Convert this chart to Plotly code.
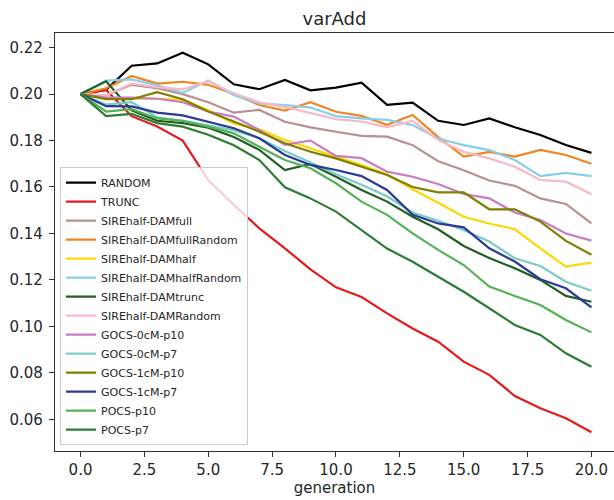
import plotly.graph_objects as go

generation = list(range(21))

RANDOM = [0.2, 0.2018, 0.2122, 0.2132, 0.2178, 0.2128, 0.2042, 0.2021, 0.2061, 0.2016, 0.2028,
          0.2049, 0.1954, 0.1963, 0.1885, 0.1867, 0.1895, 0.1857, 0.1824, 0.1781, 0.1747]
TRUNC = [0.2, 0.2018, 0.1905, 0.186, 0.1800, 0.163, 0.1523, 0.1422, 0.1336, 0.1245, 0.1168,
         0.1126, 0.1056, 0.0991, 0.0934, 0.0848, 0.0791, 0.0700, 0.0647, 0.0604, 0.0544]
DAMfull = [0.2, 0.1995, 0.204, 0.2025, 0.2, 0.1965, 0.192, 0.1932, 0.1881, 0.1857, 0.1838,
           0.182, 0.1817, 0.178, 0.1711, 0.1672, 0.1628, 0.1605, 0.1551, 0.1527, 0.1443]
DAMfullRandom = [0.2, 0.2025, 0.2078, 0.2045, 0.2053, 0.204, 0.2, 0.1953, 0.1929, 0.1965, 0.1924,
                 0.1906, 0.1868, 0.191, 0.1815, 0.1731, 0.1751, 0.1731, 0.176, 0.1738, 0.17]
DAMhalf = [0.2, 0.1985, 0.198, 0.198, 0.1975, 0.193, 0.1874, 0.1848, 0.1802, 0.1766, 0.173,
           0.1695, 0.1655, 0.159, 0.1532, 0.1472, 0.1443, 0.1418, 0.1336, 0.1257, 0.1274]
DAMhalfRandom = [0.2, 0.2058, 0.2063, 0.2038, 0.2005, 0.2058, 0.1995, 0.196, 0.1953, 0.1942, 0.1905,
                 0.1895, 0.1889, 0.1867, 0.1809, 0.178, 0.1759, 0.1716, 0.1647, 0.1661, 0.1647]
DAMtrunc = [0.2, 0.2055, 0.193, 0.1885, 0.1875, 0.1855, 0.1815, 0.176, 0.1673, 0.1699, 0.1644,
            0.1587, 0.1537, 0.1472, 0.1418, 0.1346, 0.1294, 0.125, 0.12, 0.1131, 0.1106]
DAMRandom = [0.2, 0.1995, 0.2045, 0.203, 0.202, 0.2056, 0.2003, 0.1965, 0.1945, 0.192, 0.1892,
             0.1882, 0.1857, 0.1885, 0.1802, 0.1752, 0.1723, 0.1687, 0.163, 0.1623, 0.1569]
GOCS0_p10 = [0.2, 0.1985, 0.1985, 0.198, 0.1965, 0.1925, 0.1903, 0.1845, 0.1781, 0.18, 0.1734,
             0.1724, 0.1666, 0.1644, 0.1613, 0.157, 0.1551, 0.149, 0.1458, 0.14, 0.1369]
GOCS0_p7 = [0.2, 0.1955, 0.1965, 0.19, 0.1885, 0.1865, 0.1845, 0.181, 0.1755, 0.1705, 0.1655,
            0.161, 0.156, 0.149, 0.1455, 0.1415, 0.1365, 0.1293, 0.126, 0.1192, 0.1153]
GOCS1_p10 = [0.2, 0.1978, 0.1978, 0.2008, 0.1978, 0.1925, 0.1882, 0.1838, 0.1788, 0.1752, 0.1723,
             0.1688, 0.1652, 0.16, 0.1577, 0.1577, 0.1504, 0.1504, 0.1451, 0.1368, 0.1308]
GOCS1_p7 = [0.2, 0.1948, 0.1947, 0.192, 0.1908, 0.188, 0.1853, 0.181, 0.1738, 0.1695, 0.1673,
            0.1647, 0.1587, 0.148, 0.1443, 0.1426, 0.1336, 0.1279, 0.1203, 0.1164, 0.1082]
POCS_p10 = [0.2, 0.1925, 0.1935, 0.1895, 0.1885, 0.186, 0.1831, 0.1774, 0.1716, 0.1681, 0.1616,
            0.1537, 0.148, 0.14, 0.1329, 0.1264, 0.1171, 0.1131, 0.1092, 0.1027, 0.0974]
POCS_p7 = [0.2, 0.1905, 0.1915, 0.1875, 0.186, 0.1825, 0.178, 0.1716, 0.1599, 0.1551, 0.1494,
           0.1415, 0.1335, 0.1278, 0.1214, 0.1149, 0.1078, 0.1006, 0.0963, 0.0884, 0.0826]

series_names = ["RANDOM", "TRUNC", "SIREhalf-DAMfull", "SIREhalf-DAMfullRandom", "SIREhalf-DAMhalf",
                "SIREhalf-DAMhalfRandom", "SIREhalf-DAMtrunc", "SIREhalf-DAMRandom", "GOCS-0cM-p10",
                "GOCS-0cM-p7", "GOCS-1cM-p10", "GOCS-1cM-p7", "POCS-p10", "POCS-p7"]
series_values = [RANDOM, TRUNC, DAMfull, DAMfullRandom, DAMhalf, DAMhalfRandom, DAMtrunc, DAMRandom,
                 GOCS0_p10, GOCS0_p7, GOCS1_p10, GOCS1_p7, POCS_p10, POCS_p7]
series_colors = ["#000000", "#e41a1c", "#bc8f8f", "#f28522", "#ffd700", "#87ceeb", "#1f5f22",
                 "#f7b9c6", "#c97bc4", "#7ccbc6", "#7f7f00", "#2b3a96", "#55b155", "#2a7d32"]

x_ticks = [0, 2.5, 5, 7.5, 10, 12.5, 15, 17.5, 20]
y_ticks = [0.06, 0.08, 0.10, 0.12, 0.14, 0.16, 0.18, 0.20, 0.22]

fig = go.Figure()
for name, vals, col in zip(series_names, series_values, series_colors):
    fig.add_trace(go.Scatter(x=generation, y=vals, mode="lines", name=name,
                             line=dict(color=col, width=2.2)))

font_family = "DejaVu Sans"
fig.update_layout(
    width=614, height=500,
    margin=dict(l=55, r=0, t=33, b=49),
    paper_bgcolor="white", plot_bgcolor="white",
    font=dict(family=font_family, color="#262626"),
    title=dict(text="varAdd", x=(55 + 614) / 2 / 614, xanchor="center", y=1 - 19 / 500,
               yanchor="middle", font=dict(size=18, family=font_family, color="#262626")),
    showlegend=True,
    legend=dict(x=0.009, y=0.014, xanchor="left", yanchor="bottom",
                bgcolor="rgba(255,255,255,0.8)", bordercolor="#cccccc", borderwidth=1,
                font=dict(size=11, family=font_family, color="#262626"),
                tracegroupgap=0),
)
fig.update_xaxes(range=[-1, 20.883], tickmode="array", tickvals=x_ticks,
                 ticktext=[f"{v:.1f}" for v in x_ticks],
                 showgrid=False, zeroline=False, showline=True, linecolor="#333333", linewidth=1.2,
                 mirror=True, ticks="outside", ticklen=5, tickwidth=1.1, tickcolor="#333333",
                 tickfont=dict(size=15, family=font_family, color="#262626"),
                 title=dict(text="generation", font=dict(size=15, family=font_family, color="#262626"),
                            standoff=4))
fig.update_yaxes(range=[0.04633, 0.2263], tickmode="array", tickvals=y_ticks,
                 ticktext=[f"{v:.2f}" for v in y_ticks],
                 showgrid=False, zeroline=False, showline=True, linecolor="#333333", linewidth=1.2,
                 mirror=False, ticks="outside", ticklen=5, tickwidth=1.1, tickcolor="#333333",
                 tickfont=dict(size=15, family=font_family, color="#262626"),
                 ticklabelstandoff=3)

fig.write_html("out.html")
